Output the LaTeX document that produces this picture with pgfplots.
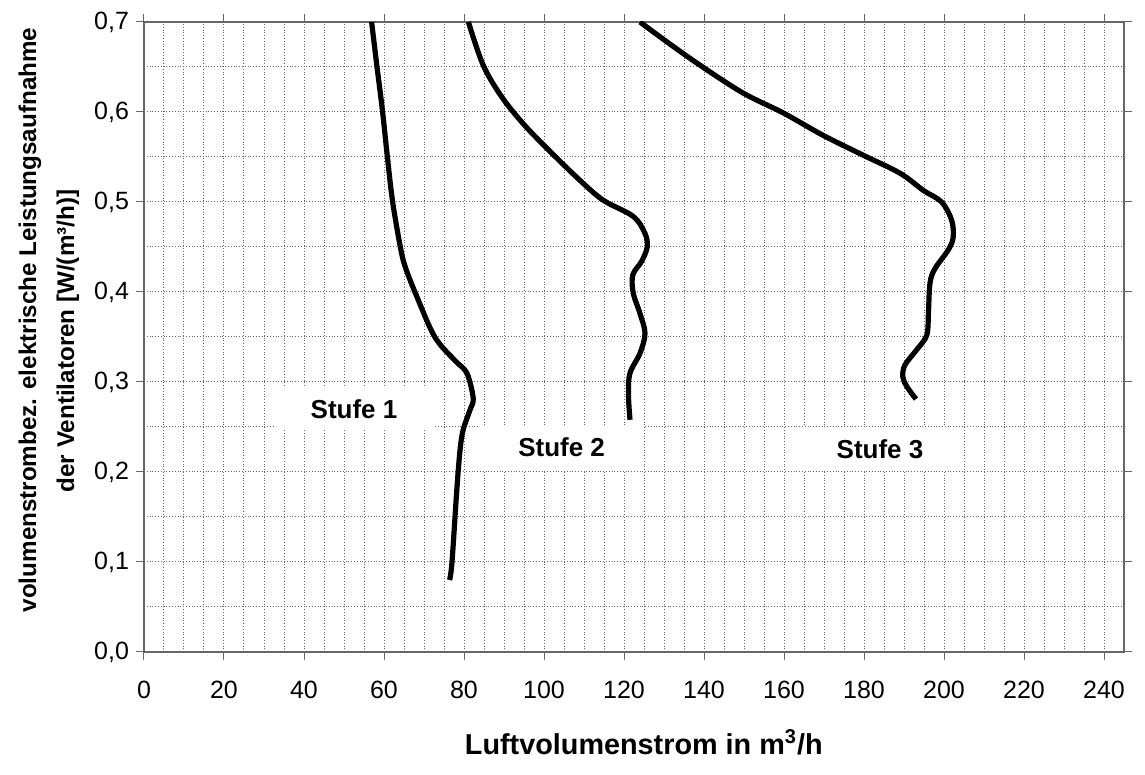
\documentclass[border=0pt]{standalone}
\usepackage{pgfplots}
\pgfplotsset{compat=1.18}
\usepackage{fontspec}
\setmainfont{Liberation Sans}
\tikzset{curve/.style={black, line width=2.6pt, smooth, tension=0.55, mark=none}}
\begin{document}
\begin{tikzpicture}
\begin{axis}[
  at={(0,0)}, anchor=south west,
  scale only axis, width=490pt, height=315pt,
  xmin=0, xmax=245, ymin=0, ymax=0.7,
  xtick={0,20,40,60,80,100,120,140,160,180,200,220,240},
  minor x tick num=3,
  ytick={0,0.1,0.2,0.3,0.4,0.5,0.6,0.7},
  minor y tick num=1,
  grid=both,
  major grid style={densely dotted, black!60, line width=0.5pt},
  minor grid style={densely dotted, black!60, line width=0.5pt},
  axis line style={black!60, line width=0.6pt},
  tick align=outside, major tick length=4pt, minor tick length=0pt,
  tick style={black!60, line width=0.5pt},
  /pgf/number format/assume math mode=true,
  ticklabel style={font=\fontsize{12.5}{15}\selectfont},
  yticklabel style={/pgf/number format/.cd, use comma, fixed, fixed zerofill, precision=1},
  xticklabel style={yshift=-7pt},
  xlabel={Luftvolumenstrom in m\textsuperscript{3}/h},
  xlabel style={at={(axis description cs:0.51,-0.143)}, anchor=center, font=\bfseries\fontsize{14.4}{17}\selectfont},
  ylabel={volumenstrombez. elektrische Leistungsaufnahme\\der Ventilatoren [W/(m³/h)]\hspace*{21pt}},
  ylabel style={at={(axis description cs:-0.097,0.527)}, anchor=center, align=center, font=\bfseries\fontsize{12.1}{19}\selectfont},
]
\node[fill=white, minimum width=80pt, minimum height=21pt, inner sep=0pt, font=\bfseries\fontsize{13}{15}\selectfont] at (axis cs:52.5,0.270) {Stufe 1};
\node[fill=white, minimum width=81.5pt, minimum height=22.5pt, inner sep=0pt, font=\bfseries\fontsize{13}{15}\selectfont] at (axis cs:104.4,0.227) {Stufe 2};
\node[fill=white, minimum width=80pt, minimum height=22pt, inner sep=0pt, font=\bfseries\fontsize{13}{15}\selectfont] at (axis cs:184,0.225) {Stufe 3};

\addplot[curve] coordinates {
(56.9,0.700) (58.2,0.652) (59.6,0.602) (60.8,0.552) (62.1,0.502) (64.0,0.452)
(65.3,0.428) (68.2,0.395) (72.7,0.350) (77.7,0.324) (80.7,0.310) (82.3,0.282)
(81.5,0.269) (79.8,0.247) (79.0,0.224) (78.2,0.180) (77.0,0.100) (76.4,0.080)
};
\addplot[curve] coordinates {
(81.1,0.700) (84.8,0.652) (89.4,0.617) (94.8,0.587) (101.1,0.558) (109.0,0.524)
(114.8,0.502) (122.3,0.484) (125.25,0.465) (125.8,0.450) (124.4,0.434) (122.2,0.419)
(122.3,0.399) (124.0,0.376) (125.25,0.354) (124.0,0.332) (121.5,0.310) (121.1,0.287)
(121.5,0.258)
};
\addplot[curve] coordinates {
(124.0,0.700) (130.7,0.678) (139.0,0.652) (149.8,0.621) (159.8,0.599) (169.8,0.574)
(179.8,0.552) (189.0,0.532) (194.8,0.513) (199.4,0.500) (201.9,0.480) (202.3,0.461)
(201.1,0.447) (197.75,0.426) (196.5,0.410) (196.1,0.376) (195.7,0.352) (193.2,0.336)
(190.25,0.319) (189.7,0.306) (190.7,0.295) (193.0,0.281)
};
\end{axis}
\pgfresetboundingbox
\path[use as bounding box] (-72pt,-61.5pt) rectangle (500.5pt,326pt);
\end{tikzpicture}
\end{document}
